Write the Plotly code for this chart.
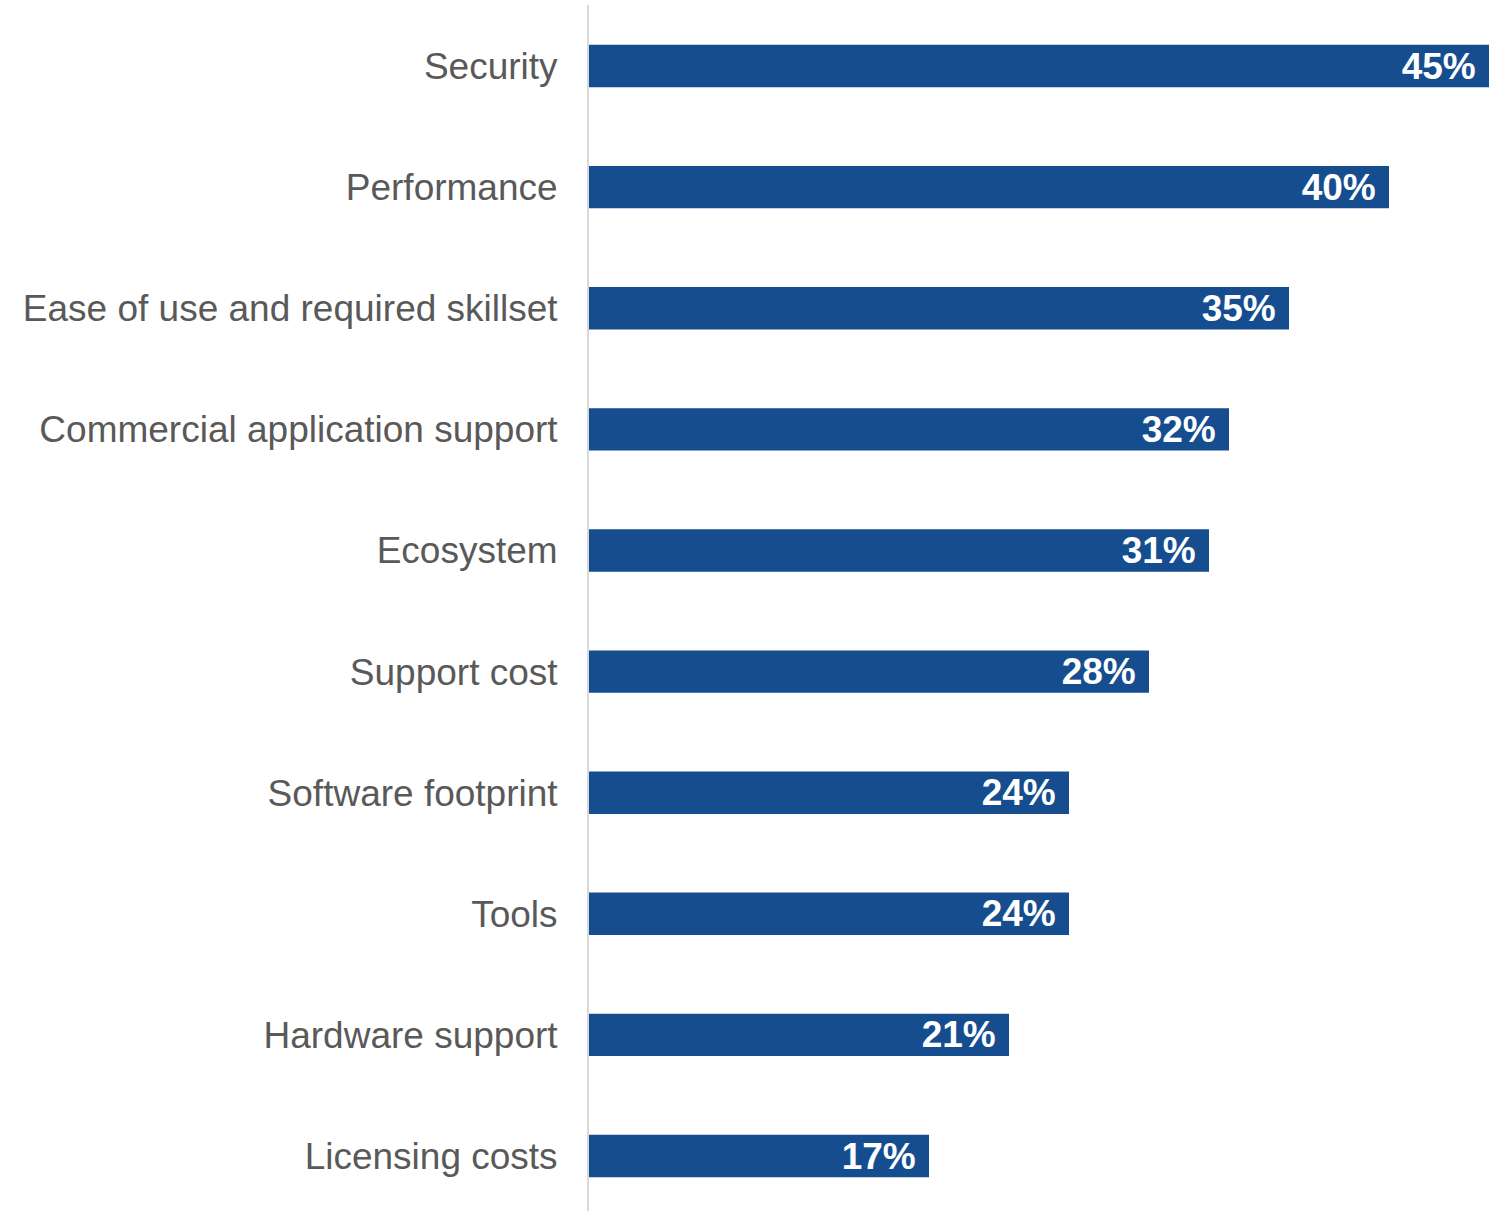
import plotly.graph_objects as go

categories = [
    "Security",
    "Performance",
    "Ease of use and required skillset",
    "Commercial application support",
    "Ecosystem",
    "Support cost",
    "Software footprint",
    "Tools",
    "Hardware support",
    "Licensing costs",
]
values = [45, 40, 35, 32, 31, 28, 24, 24, 21, 17]
value_labels = [f"{v}%\u00a0" for v in values]

fig = go.Figure(
    go.Bar(
        x=values,
        y=categories,
        orientation="h",
        marker=dict(color="#154d8f", line=dict(width=0)),
        text=value_labels,
        textposition="inside",
        insidetextanchor="end",
        textangle=0,
        textfont=dict(family="Liberation Sans, Arial, sans-serif", size=37, color="white", weight="bold"),
        cliponaxis=False,
        width=0.35,
    )
)

fig.update_layout(
    width=1496,
    height=1211,
    margin=dict(l=589, r=7, t=5, b=0),
    plot_bgcolor="white",
    paper_bgcolor="white",
    showlegend=False,
    uniformtext=dict(minsize=37, mode="show"),
)
fig.update_xaxes(
    range=[0, 45],
    visible=False,
    showgrid=False,
    zeroline=False,
)
fig.update_yaxes(
    range=[9.454, -0.504],
    showgrid=False,
    zeroline=False,
    showline=True,
    linecolor="#d9d9d9",
    linewidth=2,
    ticks="",
    ticklabelstandoff=22,
    tickfont=dict(family="Liberation Sans, Arial, sans-serif", size=37, color="#595959"),
)

fig.write_html("out.html")
